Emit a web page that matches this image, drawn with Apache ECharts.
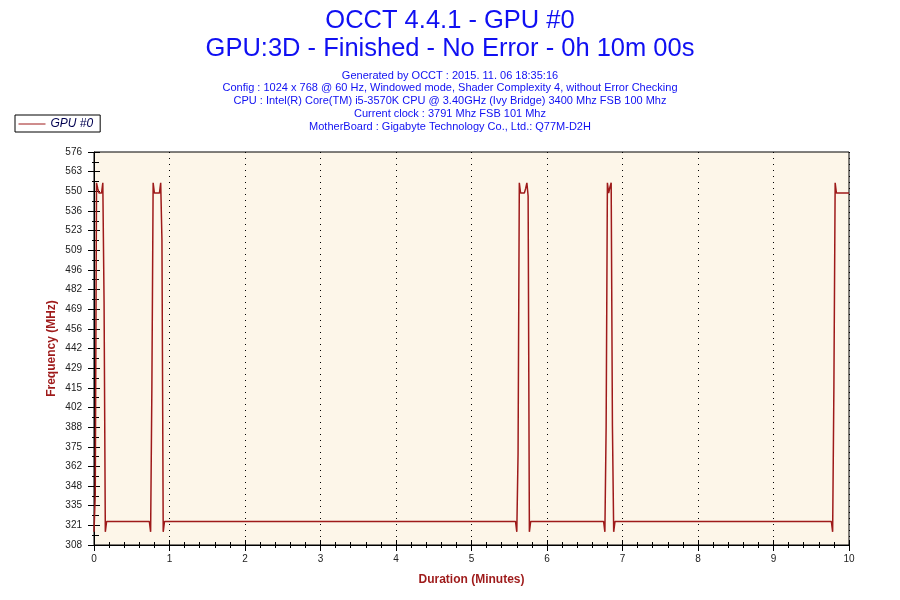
<!DOCTYPE html>
<html>
<head>
<meta charset="utf-8">
<script src="https://cdn.jsdelivr.net/npm/echarts@6/dist/echarts.min.js"></script>
<style>
html,body{margin:0;padding:0;background:#fff;}
#c{width:900px;height:600px;}
</style>
</head>
<body>
<div id="c"></div>
<script>
// ---- data (time in seconds, frequency in MHz) ----
const seconds = [0,1,2,3,4,5,6,7,8,9,10,
  44,45,46,47,48,52,53,54,55,56,
  335,336,337,338,339,342,343,344,345,346,347,
  405,406,407,408,409,410,411,412,413,414,
  586,587,588,589,590,600];
const freqMHz = [317,343,555,551,548,548,548,555,474,317,324,
  324,317,416,555,548,548,555,516,317,324,
  324,317,370,555,548,548,551,555,546,317,324,
  324,317,389,555,548,552,555,389,317,324,
  324,317,416,555,548,548];
const yTickLabels = ['308','321','335','348','362','375','388','402','415','429','442',
  '456','469','482','496','509','523','536','550','563','576'];
const xTickLabels = ['0','1','2','3','4','5','6','7','8','9','10'];
const titleLines = ['OCCT 4.4.1 - GPU #0', 'GPU:3D - Finished - No Error - 0h 10m 00s'];
const infoLines = [
  'Generated by OCCT : 2015. 11. 06 18:35:16',
  'Config : 1024 x 768 @ 60 Hz, Windowed mode, Shader Complexity 4, without Error Checking',
  'CPU : Intel(R) Core(TM) i5-3570K CPU @ 3.40GHz (Ivy Bridge) 3400 Mhz FSB 100 Mhz',
  'Current clock : 3791 Mhz FSB 101 Mhz',
  'MotherBoard : Gigabyte Technology Co., Ltd.: Q77M-D2H'
];
const seriesName = 'GPU #0';

// ---- chart ----
const yMin = 308, yMax = 576;
const yStep = (yMax - yMin) / (yTickLabels.length - 1);
const yMajor = yTickLabels.map((_, i) => yMin + i * yStep);
const yMinor = yMajor.slice(1).map(v => v - yStep / 2);
const FONT = 'Liberation Sans, Arial, sans-serif';
const BLUE = '#1010F2';
const RED = '#9E1A1A';

const titles = [];
titleLines.forEach((t, i) => titles.push({
  text: t, left: 450, top: 8 + i * 27.5, textAlign: 'center', padding: 0,
  textStyle: {fontFamily: FONT, fontSize: 25.5, fontWeight: 'normal', color: BLUE}
}));
infoLines.forEach((t, i) => titles.push({
  text: t, left: 450, top: 70 + i * 12.9, textAlign: 'center', padding: 0,
  textStyle: {fontFamily: FONT, fontSize: 11, fontWeight: 'normal', color: BLUE}
}));

const baseY = {
  type: 'value', min: yMin, max: yMax, position: 'left', offset: 0,
  axisLine: {show: false}, axisLabel: {show: false}, splitLine: {show: false}
};
const baseX = {
  type: 'value', min: 0, max: 600, interval: 60, position: 'bottom', offset: 0,
  axisLine: {show: false}, axisLabel: {show: false}, splitLine: {show: false}
};

const chart = echarts.init(document.getElementById('c'), null, {renderer: 'canvas'});
chart.setOption({
  animation: false,
  backgroundColor: '#ffffff',
  title: titles,
  legend: {
    show: true, left: 15, top: 115, orient: 'horizontal',
    data: [seriesName],
    borderColor: '#000', borderWidth: 1, borderRadius: 0,
    padding: [3, 7, 2, 3], itemWidth: 27, itemHeight: 10,
    itemStyle: {color: 'transparent', borderWidth: 0, opacity: 0},
    lineStyle: {color: RED, width: 1},
    textStyle: {fontFamily: FONT, fontSize: 12, fontStyle: 'italic', color: '#000050'}
  },
  grid: {
    left: 94, right: 51, top: 152, bottom: 55,
    show: true, backgroundColor: '#FDF6E9', borderColor: '#000', borderWidth: 1,
    outerBoundsMode: 'none', containLabel: false
  },
  xAxis: [
    Object.assign({}, baseX, {
      axisLine: {show: true, lineStyle: {color: '#000', width: 1}},
      axisTick: {show: true, inside: false, length: 6, lineStyle: {color: '#000'}},
      minorTick: {show: true, splitNumber: 5, length: 3, lineStyle: {color: '#000'}},
      axisLabel: {show: true, margin: 9, color: '#222', fontFamily: FONT, fontSize: 10,
        formatter: v => xTickLabels[Math.round(v / 60)]},
      splitLine: {show: true, lineStyle: {color: '#000', type: [1, 5], width: 1}},
      name: 'Duration (Minutes)', nameLocation: 'middle', nameGap: 29,
      nameTextStyle: {fontFamily: FONT, fontSize: 12, fontWeight: 'bold', color: RED}
    }),
    Object.assign({}, baseX, {
      axisTick: {show: true, inside: true, length: 5, lineStyle: {color: '#000'}},
      minorTick: {show: true, splitNumber: 5, length: 3, lineStyle: {color: '#000'}}
    })
  ],
  yAxis: [
    Object.assign({}, baseY, {
      axisLine: {show: true, lineStyle: {color: '#000', width: 1}},
      axisTick: {show: true, inside: false, length: 6, customValues: yMajor, lineStyle: {color: '#000'}},
      axisLabel: {show: true, margin: 12, color: '#222', fontFamily: FONT, fontSize: 10,
        customValues: yMajor,
        formatter: v => yTickLabels[Math.round((v - yMin) / yStep)]},
      name: 'Frequency (MHz)', nameLocation: 'middle', nameGap: 36, nameRotate: 90,
      nameMoveOverlap: false,
      nameTextStyle: {fontFamily: FONT, fontSize: 12, fontWeight: 'bold', color: RED}
    }),
    Object.assign({}, baseY, {
      axisTick: {show: true, inside: true, length: 6, customValues: yMajor, lineStyle: {color: '#000'}}
    }),
    Object.assign({}, baseY, {
      axisTick: {show: true, inside: true, length: 5, customValues: yMinor, lineStyle: {color: '#000'}}
    }),
    Object.assign({}, baseY, {
      axisTick: {show: true, inside: false, length: 2, customValues: yMinor, lineStyle: {color: '#000'}}
    })
  ],
  series: [{
    name: seriesName, type: 'line', xAxisIndex: 0, yAxisIndex: 0,
    symbol: 'none', showSymbol: false,
    lineStyle: {color: RED, width: 1.5},
    itemStyle: {color: RED},
    data: seconds.map((s, i) => [s, freqMHz[i]])
  }]
});
</script>
</body>
</html>
